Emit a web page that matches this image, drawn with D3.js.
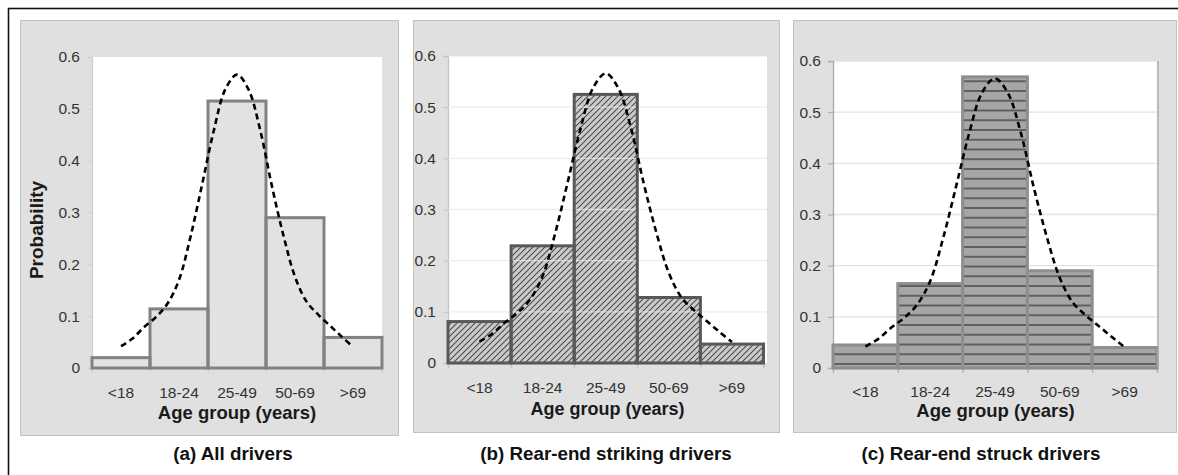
<!DOCTYPE html>
<html>
<head>
<meta charset="utf-8">
<script src="https://cdn.jsdelivr.net/npm/d3@7/dist/d3.min.js"></script>
<style>
  html, body { margin: 0; padding: 0; background: #fff; }
  svg { display: block; font-family: "Liberation Sans", Arial, sans-serif; }
</style>
</head>
<body>
<svg id="chart" width="1178" height="475"></svg>
<script>
// ---------------- data ----------------
const categories = ["<18", "18-24", "25-49", "50-69", ">69"];
const allDrivers = [0.020, 0.114, 0.515, 0.290, 0.059];
const strikingDrivers = [0.081, 0.229, 0.525, 0.128, 0.037];
const struckDrivers = [0.045, 0.165, 0.569, 0.190, 0.040];
const yTicks = [0, 0.1, 0.2, 0.3, 0.4, 0.5, 0.6];
// fitted distribution curve (x = category index, fractional)
const curveIdx = [0, 0.2, 0.4, 0.6, 0.8, 1.0, 1.2, 1.4, 1.6, 1.8, 2.0, 2.2, 2.4, 2.6, 2.8, 3.0, 3.2, 3.4, 3.6, 3.8, 4.0];
const curveVal = [0.042, 0.057, 0.079, 0.098, 0.124, 0.170, 0.254, 0.355, 0.458, 0.538, 0.566, 0.537, 0.459, 0.352, 0.256, 0.176, 0.128, 0.103, 0.082, 0.061, 0.041];
const captions = ["(a) All drivers", "(b) Rear-end striking drivers", "(c) Rear-end struck drivers"];
const xTitle = "Age group (years)";
const yTitle = "Probability";

// ---------------- layout ----------------
const panels = [
  { values: allDrivers, box: [20, 20, 378, 415], x0: 92, x1: 382, plotRight: 382, yTop: 57, yBot: 368,
    fill: "#e2e2e2", stroke: "#828282", grid: "none", axisColor: "#cfcfcf",
    labelY: 398, titleY: 419, titleSize: 18.5, capX: 233, rightLine: false },
  { values: strikingDrivers, box: [413, 20, 366, 412], x0: 448, x1: 763.5, plotRight: 767, yTop: 56, yBot: 363,
    fill: "url(#hatchDiag)", stroke: "#585858", grid: "over", axisColor: "#c4c4c4",
    labelY: 393, titleY: 415, titleSize: 18, capX: 606, rightLine: false },
  { values: struckDrivers, box: [793, 20, 383, 412], x0: 833, x1: 1157, plotRight: 1158, yTop: 61, yBot: 368,
    fill: "url(#hatchHoriz)", stroke: "#8e8e8e", grid: "under", axisColor: "#a8a8a8",
    labelY: 397, titleY: 417, titleSize: 18.5, capX: 981, rightLine: true }
];

const svg = d3.select("#chart");
const defs = svg.append("defs");

// diagonal hatch
const pd = defs.append("pattern").attr("id", "hatchDiag").attr("patternUnits", "userSpaceOnUse")
  .attr("width", 6).attr("height", 6);
pd.append("rect").attr("width", 6).attr("height", 6).attr("fill", "#cbcbcb");
pd.append("path").attr("d", "M0,6 L6,0 M-1,1 L1,-1 M5,7 L7,5")
  .attr("stroke", "#4a4a4a").attr("stroke-width", 1.05);

// horizontal hatch
const ph = 9.75;
const phz = defs.append("pattern").attr("id", "hatchHoriz").attr("patternUnits", "userSpaceOnUse")
  .attr("x", 0).attr("y", 364 - ph / 2).attr("width", 20).attr("height", ph);
phz.append("rect").attr("width", 20).attr("height", ph).attr("fill", "#a6a6a6");
phz.append("line").attr("x1", 0).attr("x2", 20).attr("y1", ph / 2).attr("y2", ph / 2)
  .attr("stroke", "#4f4f4f").attr("stroke-width", 1.6);

// outer frame
svg.append("rect").attr("x", 8.5).attr("y", 8.5).attr("width", 1300).attr("height", 600)
  .attr("fill", "none").attr("stroke", "#111").attr("stroke-width", 1.6);

panels.forEach((p, pi) => {
  const g = svg.append("g");
  const [bx, by, bw, bh] = p.box;
  g.append("rect").attr("x", bx + 0.5).attr("y", by + 0.5).attr("width", bw).attr("height", bh)
    .attr("fill", "#e0e0e0").attr("stroke", "#c2c2c2").attr("stroke-width", 1);

  const x = d3.scaleBand().domain(categories).range([p.x0, p.x1]).padding(0);
  const xl = d3.scaleLinear().domain([-0.5, categories.length - 0.5]).range([p.x0, p.x1]);
  const y = d3.scaleLinear().domain([0, 0.6]).range([p.yBot, p.yTop]);

  // plot area
  g.append("rect").attr("x", p.x0).attr("y", p.yTop).attr("width", p.plotRight - p.x0)
    .attr("height", p.yBot - p.yTop).attr("fill", "#fff");

  const drawGrid = (col, op) => {
    g.append("g").selectAll("line").data(yTicks.filter(d => d > 0)).join("line")
      .attr("x1", p.x0).attr("x2", p.plotRight)
      .attr("y1", d => y(d)).attr("y2", d => y(d))
      .attr("stroke", col).attr("stroke-opacity", op).attr("stroke-width", 1.3);
  };
  if (p.grid === "under") drawGrid("#e3e3e3", 1);

  // axes
  const ya = g.append("g").attr("transform", `translate(${p.x0},0)`)
    .call(d3.axisLeft(y).tickValues(yTicks).tickSize(5).tickPadding(7)
      .tickFormat(d => d === 0 ? "0" : d3.format(".1f")(d)));
  ya.select(".domain").attr("stroke", p.axisColor).attr("stroke-width", 1.3);
  ya.selectAll(".tick line").attr("stroke", p.axisColor);
  ya.selectAll(".tick text").attr("font-size", 15.5).attr("fill", "#333")
    .attr("font-family", "Liberation Sans, Arial, sans-serif");

  const xt = g.append("g").attr("transform", `translate(0,${p.yBot})`)
    .call(d3.axisBottom(xl).tickValues(d3.range(-0.5, categories.length, 1)).tickSize(5).tickFormat(""));
  xt.select(".domain").attr("stroke", p.axisColor).attr("stroke-width", 1.3);
  xt.selectAll(".tick line").attr("stroke", p.axisColor);

  const xa = g.append("g").attr("transform", `translate(0,${p.labelY})`)
    .call(d3.axisBottom(x).tickSize(0).tickPadding(0));
  xa.select(".domain").remove();
  xa.selectAll(".tick text").attr("dy", 0).attr("font-size", 15.5).attr("fill", "#333")
    .attr("font-family", "Liberation Sans, Arial, sans-serif");

  // bars fill
  g.append("g").selectAll("rect").data(p.values).join("rect")
    .attr("x", (d, i) => x(categories[i])).attr("y", d => y(d))
    .attr("width", x.bandwidth()).attr("height", d => y(0) - y(d))
    .attr("fill", p.fill);

  if (p.grid === "over") drawGrid("#e8e8e8", 0.75);

  // bar outlines
  g.append("g").selectAll("rect").data(p.values).join("rect")
    .attr("x", (d, i) => x(categories[i])).attr("y", d => y(d))
    .attr("width", x.bandwidth()).attr("height", d => y(0) - y(d))
    .attr("fill", "none").attr("stroke", p.stroke).attr("stroke-width", 3);

  if (p.rightLine) {
    g.append("line").attr("x1", p.plotRight).attr("x2", p.plotRight).attr("y1", p.yTop).attr("y2", p.yBot)
      .attr("stroke", "#a8a8a8").attr("stroke-width", 1.5);
  }

  // dashed curve
  const line = d3.line().x(d => xl(d[0])).y(d => y(d[1])).curve(d3.curveCatmullRom.alpha(0.5));
  g.append("path").datum(curveIdx.map((c, i) => [c, curveVal[i]]))
    .attr("d", line).attr("fill", "none").attr("stroke", "#000")
    .attr("stroke-width", 2.6).attr("stroke-dasharray", "6,4");

  // titles
  g.append("text").attr("x", (p.x0 + p.plotRight) / 2).attr("y", p.titleY)
    .attr("text-anchor", "middle").attr("font-weight", "bold").attr("font-size", p.titleSize)
    .attr("fill", "#1a1a1a").text(xTitle);

  if (pi === 0) {
    g.append("text").attr("transform", "translate(43,230) rotate(-90)")
      .attr("text-anchor", "middle").attr("font-weight", "bold").attr("font-size", 19)
      .attr("fill", "#1a1a1a").text(yTitle);
  }

  g.append("text").attr("x", p.capX).attr("y", 460).attr("text-anchor", "middle")
    .attr("font-weight", "bold").attr("font-size", 18.8).attr("fill", "#111").text(captions[pi]);
});
</script>
</body>
</html>
